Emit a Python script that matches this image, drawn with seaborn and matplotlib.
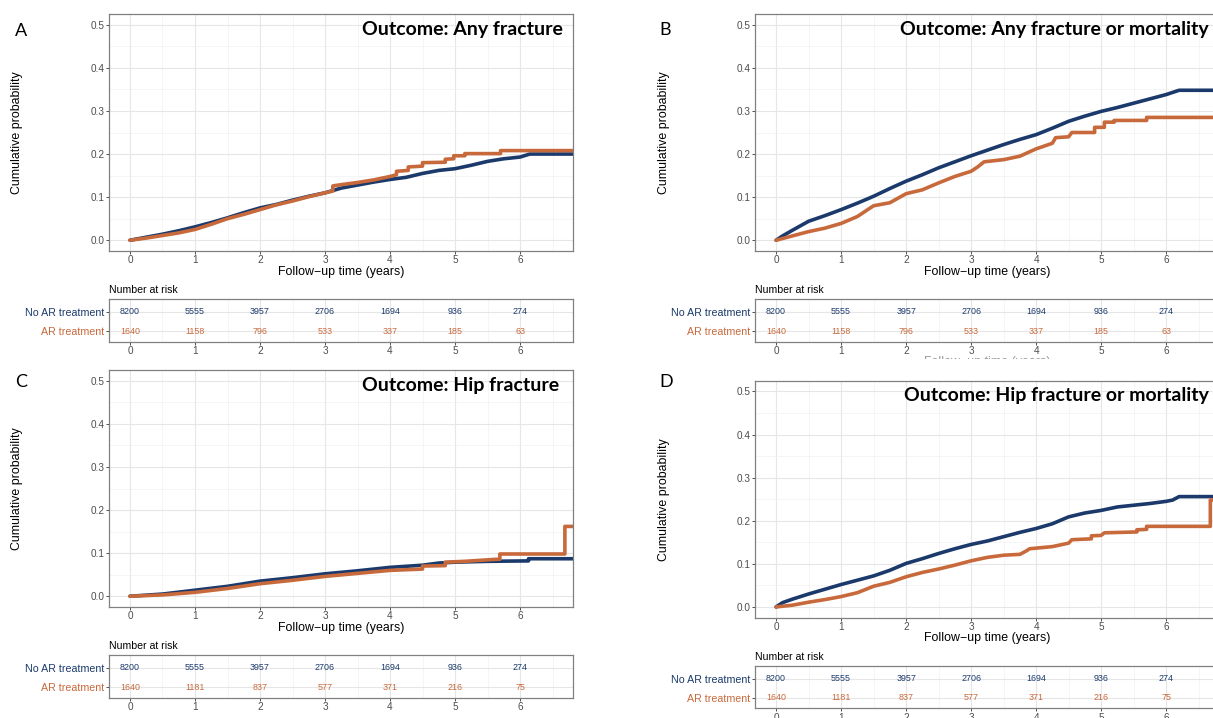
import numpy as np
import pandas as pd
import matplotlib
matplotlib.use("Agg")
import matplotlib.pyplot as plt
import seaborn as sns

sns.set_theme(style="white")
plt.rcParams["font.family"] = ["Liberation Sans", "DejaVu Sans"]

BLUE = "#1b3a6b"
ORANGE = "#c8693c"

# ---- data ----
groups = ["No AR treatment", "AR treatment"]
years = [0, 1, 2, 3, 4, 5, 6]
risk_no = [8200, 5555, 3957, 2706, 1694, 936, 274]
risk_ar_any = [1640, 1158, 796, 533, 337, 185, 63]
risk_ar_hip = [1640, 1181, 837, 577, 371, 216, 75]

titles = ["Outcome: Any fracture", "Outcome: Any fracture or mortality",
          "Outcome: Hip fracture", "Outcome: Hip fracture or mortality"]
letters = ["A", "B", "C", "D"]

# A: any fracture
a_t_no = [0, 0.25, 0.5, 0.75, 1, 1.25, 1.5, 1.75, 2, 2.25, 2.5, 2.75, 3, 3.25, 3.5,
          3.75, 4, 4.25, 4.5, 4.75, 5, 5.25, 5.5, 5.75, 6, 6.15, 6.9]
a_p_no = [0, 0.007, 0.014, 0.022, 0.031, 0.041, 0.052, 0.064, 0.075, 0.083, 0.093,
          0.102, 0.110, 0.121, 0.128, 0.135, 0.141, 0.146, 0.155, 0.162, 0.166, 0.174,
          0.183, 0.189, 0.193, 0.200, 0.200]
a_t_ar = [0, 0.25, 0.5, 0.75, 1, 1.25, 1.5, 1.75, 2, 2.25, 2.5, 2.75, 3, 3.12, 3.12,
          3.25, 3.5, 3.75, 4, 4.1, 4.1, 4.28, 4.28, 4.5, 4.5, 4.85, 4.85, 4.98, 4.98,
          5.15, 5.15, 5.7, 5.7, 6.9]
a_p_ar = [0, 0.005, 0.011, 0.017, 0.025, 0.037, 0.050, 0.060, 0.071, 0.082, 0.091,
          0.101, 0.110, 0.114, 0.126, 0.129, 0.134, 0.140, 0.148, 0.152, 0.160, 0.162,
          0.170, 0.172, 0.180, 0.181, 0.188, 0.189, 0.196, 0.196, 0.201, 0.201, 0.208,
          0.208]

# B: any fracture or mortality
b_t_no = [0, 0.1, 0.25, 0.5, 0.75, 1, 1.25, 1.5, 1.75, 2, 2.25, 2.5, 2.75, 3, 3.25,
          3.5, 3.75, 4, 4.25, 4.5, 4.75, 5, 5.25, 5.5, 5.75, 6, 6.2, 6.9]
b_p_no = [0, 0.010, 0.023, 0.044, 0.057, 0.071, 0.086, 0.102, 0.120, 0.137, 0.152,
          0.168, 0.182, 0.196, 0.209, 0.222, 0.234, 0.245, 0.260, 0.276, 0.288, 0.299,
          0.308, 0.318, 0.328, 0.338, 0.348, 0.348]
b_t_ar = [0, 0.25, 0.5, 0.75, 1, 1.25, 1.4, 1.5, 1.75, 2, 2.25, 2.5, 2.75, 3, 3.1,
          3.2, 3.5, 3.75, 4, 4.25, 4.3, 4.5, 4.55, 4.9, 4.9, 5.05, 5.05, 5.2, 5.2,
          5.7, 5.7, 6.9]
b_p_ar = [0, 0.010, 0.020, 0.028, 0.039, 0.055, 0.070, 0.080, 0.087, 0.108, 0.117,
          0.133, 0.148, 0.160, 0.170, 0.182, 0.187, 0.195, 0.212, 0.225, 0.238, 0.240,
          0.250, 0.250, 0.262, 0.262, 0.274, 0.274, 0.278, 0.278, 0.285, 0.285]

# C: hip fracture
c_t_no = [0, 0.5, 1, 1.5, 2, 2.5, 3, 3.5, 4, 4.5, 4.75, 5, 5.5, 6.13, 6.13, 6.9]
c_p_no = [0, 0.005, 0.014, 0.023, 0.035, 0.043, 0.052, 0.059, 0.067, 0.072, 0.077,
          0.079, 0.081, 0.082, 0.087, 0.087]
c_t_ar = [0, 0.5, 1, 1.5, 2, 2.5, 3, 3.5, 4, 4.5, 4.5, 4.85, 4.85, 5.15, 5.56,
          5.69, 5.69, 6.69, 6.69, 6.9]
c_p_ar = [0, 0.003, 0.009, 0.018, 0.029, 0.037, 0.046, 0.053, 0.060, 0.063, 0.070,
          0.071, 0.079, 0.081, 0.085, 0.086, 0.098, 0.098, 0.162, 0.162]

# D: hip fracture or mortality
d_t_no = [0, 0.1, 0.25, 0.5, 0.75, 1, 1.25, 1.5, 1.75, 2, 2.25, 2.5, 2.75, 3, 3.25,
          3.5, 3.75, 4, 4.25, 4.5, 4.75, 5, 5.25, 5.5, 5.75, 6, 6.1, 6.2, 6.9]
d_p_no = [0, 0.010, 0.018, 0.030, 0.041, 0.052, 0.062, 0.072, 0.085, 0.101, 0.112,
          0.124, 0.135, 0.145, 0.153, 0.163, 0.173, 0.182, 0.193, 0.209, 0.218, 0.224,
          0.232, 0.236, 0.240, 0.245, 0.248, 0.256, 0.256]
d_t_ar = [0, 0.25, 0.5, 0.75, 1, 1.25, 1.5, 1.75, 2, 2.25, 2.5, 2.75, 3, 3.25, 3.5,
          3.75, 3.85, 3.9, 4.25, 4.5, 4.55, 4.85, 4.85, 5.0, 5.05, 5.55, 5.55, 5.7,
          5.7, 6.68, 6.68, 6.9]
d_p_ar = [0, 0.004, 0.011, 0.017, 0.024, 0.033, 0.048, 0.057, 0.070, 0.080, 0.088,
          0.097, 0.107, 0.115, 0.120, 0.122, 0.130, 0.135, 0.140, 0.148, 0.156, 0.158,
          0.165, 0.166, 0.172, 0.174, 0.179, 0.180, 0.187, 0.187, 0.248, 0.248]

W, H = 1213, 718
fig = plt.figure(figsize=(W / 100, H / 100), dpi=100)
fig.patch.set_facecolor("white")


def px_axes(x0, y0, x1, y1):
    return fig.add_axes([x0 / W, 1 - y1 / H, (x1 - x0) / W, (y1 - y0) / H])


def style_box(ax):
    for s in ax.spines.values():
        s.set_visible(True)
        s.set_color("#808080")
        s.set_linewidth(0.9)
    ax.set_facecolor("white")
    ax.grid(True, which="major", color="#e6e6e6", lw=0.8)
    ax.grid(True, which="minor", color="#f1f1f1", lw=0.5)
    ax.set_axisbelow(True)
    ax.tick_params(which="major", length=2, width=0.6, color="#333333",
                   labelcolor="#4d4d4d", labelsize=7.2, pad=1.2,
                   bottom=True, left=True, top=False, right=False)
    ax.tick_params(which="minor", length=0)
    ax.set_xlabel("")
    ax.set_ylabel("")


XLIM = (-0.323, 6.815)


def draw_panel(i, ox, oy, t_no, p_no, t_ar, p_ar, risk_ar,
               letter_xy, title_xy, ylab_x, clip_label=False):
    # survival curves
    ax = px_axes(109 + ox, 14 + oy, 573 + ox, 251 + oy)
    df = pd.DataFrame({
        "time": list(t_no) + list(t_ar),
        "prob": list(p_no) + list(p_ar),
        "group": [groups[0]] * len(t_no) + [groups[1]] * len(t_ar),
    })
    sns.lineplot(data=df, x="time", y="prob", hue="group",
                 palette={groups[0]: BLUE, groups[1]: ORANGE},
                 estimator=None, sort=False, lw=2.6, legend=False, ax=ax)
    ax.set_xlim(*XLIM)
    ax.set_ylim(-0.025, 0.525)
    ax.set_xticks(years)
    ax.set_xticks(np.arange(0.5, 7, 1), minor=True)
    ax.set_yticks([0, 0.1, 0.2, 0.3, 0.4, 0.5])
    ax.set_yticks([0.05, 0.15, 0.25, 0.35, 0.45], minor=True)
    ax.set_yticklabels(["0.0", "0.1", "0.2", "0.3", "0.4", "0.5"])
    style_box(ax)

    # risk table
    tb = px_axes(109 + ox, 299.3 + oy, 573 + ox, 341.7 + oy)
    tb.set_xlim(*XLIM)
    tb.set_ylim(-0.563, 1.668)
    tb.set_xticks(years)
    tb.set_xticks(np.arange(0.5, 7, 1), minor=True)
    tb.set_yticks([0, 1])
    tb.set_yticklabels([groups[1], groups[0]])
    style_box(tb)
    tb.tick_params(axis="y", labelsize=7.7)
    for lab, c in zip(tb.get_yticklabels(), [ORANGE, BLUE]):
        lab.set_color(c)
    for yr, n_no, n_ar in zip(years, risk_no, risk_ar):
        tb.text(yr, 1, str(n_no), color=BLUE, fontsize=6.4, ha="center", va="center")
        tb.text(yr, 0, str(n_ar), color=ORANGE, fontsize=6.4, ha="center", va="center")

    # text
    fig.text((109 + ox) / W, 1 - (290 + oy) / H, "Number at risk",
             fontsize=7.6, ha="left", va="center", color="black")
    fig.text((341 + ox) / W, 1 - (271.7 + oy) / H, "Follow\u2212up time (years)",
             fontsize=8.9, ha="center", va="center", color="black")
    fig.text(ylab_x / W, 1 - (132.5 + oy) / H, "Cumulative probability",
             fontsize=8.9, rotation=90, ha="center", va="center", color="black")
    fig.text(letter_xy[0] / W, 1 - letter_xy[1] / H, letters[i],
             fontsize=13, family="Lato", ha="center", va="center", color="black")
    fig.text(title_xy[0] / W, 1 - title_xy[1] / H, titles[i],
             fontsize=14, family="Lato", fontweight="bold",
             ha="right", va="center", color="black")

    if clip_label:
        # axis title of the risk table, mostly hidden under panel D
        cl = px_axes(109 + ox, 342 + oy, 573 + ox, 359 + oy)
        cl.axis("off")
        cl.text(0.5, -0.2, "Follow\u2212up time (years)", transform=cl.transAxes,
                fontsize=8.9, ha="center", va="center", color="#9a9a9a",
                clip_on=True)


draw_panel(0, 0, 0, a_t_no, a_p_no, a_t_ar, a_p_ar, risk_ar_any,
           (20.8, 31), (563.3, 29.3), 17.2)
draw_panel(1, 646.1, 0, b_t_no, b_p_no, b_t_ar, b_p_ar, risk_ar_any,
           (665.6, 30.3), (1208.7, 29.3), 664.5, clip_label=True)
draw_panel(2, 0, 356, c_t_no, c_p_no, c_t_ar, c_p_ar, risk_ar_hip,
           (21, 382), (559.5, 385.7), 17.2)
draw_panel(3, 646.1, 366.7, d_t_no, d_p_no, d_t_ar, d_p_ar, risk_ar_hip,
           (666, 382), (1208.7, 395.7), 664.5)

fig.savefig("out.png", dpi=100, facecolor="white")
